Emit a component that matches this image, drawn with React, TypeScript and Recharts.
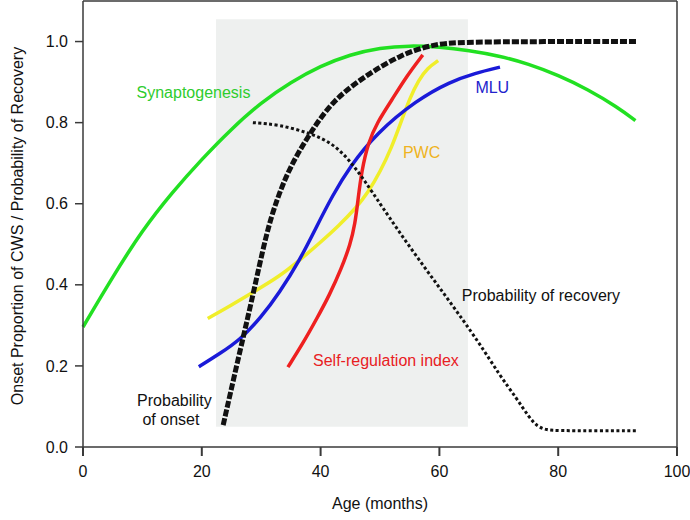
import React from 'react';
import { LineChart, Line, XAxis, YAxis, ReferenceArea, ReferenceLine, ReferenceDot } from 'recharts';

// curves: [age in months, value]
const synaptogenesis = [
  [0, 0.296], [5, 0.42], [10, 0.535], [15, 0.628], [20, 0.71], [25, 0.785], [30, 0.85], [35, 0.9],
  [40, 0.94], [45, 0.968], [50, 0.985], [55, 0.99], [60, 0.987], [65, 0.978], [70, 0.965], [75, 0.945],
  [80, 0.917], [85, 0.882], [90, 0.838], [93, 0.805],
];
const onset = [
  [23.6, 0.054], [26, 0.21], [28.4, 0.36], [30.9, 0.53], [32.6, 0.609], [34.8, 0.69], [38.2, 0.774],
  [42.1, 0.856], [47.8, 0.918], [53.4, 0.967], [59, 0.994], [64.6, 1.0], [93.3, 1.0],
];
const recovery = [
  [28.6, 0.8], [33, 0.795], [38, 0.775], [42, 0.75], [45, 0.705], [47.5, 0.655], [50, 0.6],
  [55.6, 0.48], [61.2, 0.37], [66.8, 0.255], [70, 0.18], [73, 0.12], [75, 0.075], [76.5, 0.05],
  [78, 0.042], [80, 0.04], [93.3, 0.04],
];
const selfRegulation = [
  [34.5, 0.197], [37, 0.255], [39.3, 0.315], [41.5, 0.375], [43.5, 0.44], [45, 0.5], [45.8, 0.55],
  [46.3, 0.61], [46.9, 0.68], [48, 0.75], [49.5, 0.8], [52, 0.856], [54.5, 0.915], [57.2, 0.967],
];
const pwc = [
  [21, 0.317], [25, 0.35], [29, 0.385], [33, 0.42], [36.5, 0.461], [40, 0.505], [43, 0.545],
  [46, 0.59], [48, 0.628], [50, 0.678], [52, 0.74], [53.5, 0.8], [55, 0.86], [56.5, 0.905],
  [58, 0.935], [59.8, 0.953],
];
const mlu = [
  [19.5, 0.198], [23, 0.23], [26.5, 0.265], [30, 0.32], [33, 0.379], [36.5, 0.461], [39.3, 0.543],
  [42, 0.62], [44.9, 0.691], [49.4, 0.774], [56.2, 0.856], [61.8, 0.901], [66, 0.922], [70.2, 0.937],
];

const xTicks = [0, 20, 40, 60, 80, 100];
const yTicks = [0, 0.2, 0.4, 0.6, 0.8, 1.0];

const toRows = (pts: number[][]) => pts.map(([age, v]) => ({ age, v }));

const FONT = '"Liberation Sans", Arial, sans-serif';
const AXIS = '#3a3a3a';

const annot = (x: number, y: number, text: string, color: string) => (
  <ReferenceDot
    key={text}
    x={x}
    y={y}
    r={0}
    fill="none"
    stroke="none"
    label={{ value: text, position: 'center', fill: color, fontSize: 16, fontFamily: FONT }}
  />
);

export default function App() {
  return (
    <div style={{ position: 'absolute', left: 0, top: 0, background: '#fff' }}>
      <LineChart width={690} height={520} margin={{ top: 1, right: 13, bottom: 13, left: 0 }}>
        <ReferenceArea x1={22.4} x2={64.8} y1={0.05} y2={1.055} fill="#eef0ef" fillOpacity={1} stroke="none" />
        <XAxis
          type="number"
          dataKey="age"
          domain={[0, 100]}
          ticks={xTicks}
          height={60}
          tickSize={9}
          tickMargin={10}
          axisLine={{ stroke: AXIS, strokeWidth: 1.5 }}
          tickLine={{ stroke: AXIS, strokeWidth: 2 }}
          tick={{ fill: '#111', fontSize: 16, fontFamily: FONT }}
          label={{
            content: () => (
              <text x={380} y={503} textAnchor="middle" dominantBaseline="central" fill="#111" fontSize={16} fontFamily={FONT}>
                Age (months)
              </text>
            ),
          }}
        />
        <YAxis
          type="number"
          domain={[0, 1.1]}
          ticks={yTicks}
          width={83}
          tickSize={8}
          tickMargin={7}
          tickFormatter={(v: number) => v.toFixed(1)}
          axisLine={{ stroke: AXIS, strokeWidth: 1.5 }}
          tickLine={{ stroke: AXIS, strokeWidth: 1.5 }}
          tick={{ fill: '#111', fontSize: 16, fontFamily: FONT }}
          label={{
            content: () => (
              <text
                x={17}
                y={226}
                transform="rotate(-90 17 226)"
                textAnchor="middle"
                dominantBaseline="central"
                fill="#111"
                fontSize={16}
                fontFamily={FONT}
              >
                Onset Proportion of CWS / Probability of Recovery
              </text>
            ),
          }}
        />
        <ReferenceLine y={1.1} stroke={AXIS} strokeWidth={1.5} />
        <ReferenceLine x={100} stroke={AXIS} strokeWidth={1.5} />

        <Line data={toRows(synaptogenesis)} dataKey="v" type="basis" stroke="#22e022" strokeWidth={3.5} dot={false} activeDot={false} isAnimationActive={false} />
        <Line data={toRows(pwc)} dataKey="v" type="basis" stroke="#f0ee2a" strokeWidth={3.5} dot={false} activeDot={false} isAnimationActive={false} />
        <Line data={toRows(mlu)} dataKey="v" type="basis" stroke="#1a1ad8" strokeWidth={3.5} dot={false} activeDot={false} isAnimationActive={false} />
        <Line data={toRows(selfRegulation)} dataKey="v" type="basis" stroke="#ee2020" strokeWidth={3.5} dot={false} activeDot={false} isAnimationActive={false} />
        <Line data={toRows(recovery)} dataKey="v" type="basis" stroke="#111" strokeWidth={3} strokeDasharray="3 2.5" dot={false} activeDot={false} isAnimationActive={false} />
        <Line data={toRows(onset)} dataKey="v" type="basis" stroke="#111" strokeWidth={5} strokeDasharray="7 2" dot={false} activeDot={false} isAnimationActive={false} />

        {annot(18.6, 0.875, 'Synaptogenesis', '#2ecc2e')}
        {annot(68.9, 0.886, 'MLU', '#2222cc')}
        {annot(57.0, 0.727, 'PWC', '#efb321')}
        {annot(51.0, 0.214, 'Self-regulation index', '#e8201f')}
        {annot(77.1, 0.373, 'Probability of recovery', '#111')}
        {annot(15.4, 0.114, 'Probability', '#111')}
        {annot(14.8, 0.068, 'of onset', '#111')}
      </LineChart>
    </div>
  );
}
